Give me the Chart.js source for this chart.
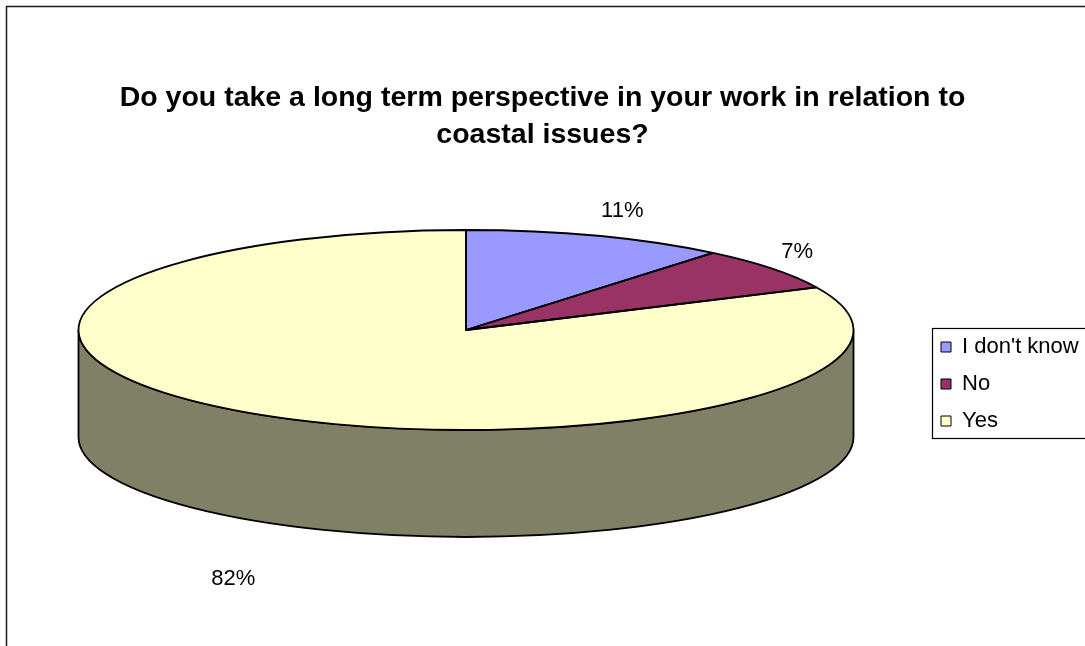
<!DOCTYPE html>
<html>
<head>
<meta charset="utf-8">
<script src="https://cdn.jsdelivr.net/npm/chart.js@4/dist/chart.umd.min.js"></script>
<style>
  html, body { margin: 0; padding: 0; background: #fff; overflow: hidden; }
  canvas { display: block; }
</style>
</head>
<body>
<canvas id="c" width="1085" height="646"></canvas>
<script>
// ---- data ----
const categories = ["I don't know", "No", "Yes"];
const values = [11, 7, 82];
const percentLabels = ["11%", "7%", "82%"];
const titleLines = ["Do you take a long term perspective in your work in relation to", "coastal issues?"];

// ---- style ----
const sliceColors = ['#9999FF', '#993366', '#FFFFCC'];
const FONT = "'Liberation Sans', Arial, sans-serif";
const CX = 466, CY = 330, RX = 387.5, RY = 100, DEPTH = 107;
const K = RY / RX;

function darken(hex, f) {
  const n = parseInt(hex.slice(1), 16);
  const r = Math.round(((n >> 16) & 255) * f), g = Math.round(((n >> 8) & 255) * f), b = Math.round((n & 255) * f);
  return `rgb(${r},${g},${b})`;
}
const sideColors = sliceColors.map(c => darken(c, 0.5));

const pie3d = {
  id: 'pie3d',
  afterLayout(chart) {
    chart.chartArea = { left: CX - RX, right: CX + RX, top: CY - RX, bottom: CY + RX, width: 2 * RX, height: 2 * RX };
    const lg = chart.legend;
    if (lg) {
      const w = lg.width, h = lg.height;
      lg.left = 926; lg.top = 321; lg.right = lg.left + w; lg.bottom = lg.top + h;
    }
  },
  beforeDraw(chart) {
    const ctx = chart.ctx;
    ctx.save();
    ctx.strokeStyle = '#1a1a1a';
    ctx.lineWidth = 1.5;
    ctx.strokeRect(6.5, 6.5, 1300, 900);
    // legend frame
    ctx.lineWidth = 1.2;
    ctx.strokeStyle = '#000';
    ctx.strokeRect(932.5, 328.5, 200, 110);
    ctx.restore();
  },
  beforeDatasetsDraw(chart) {
    const ctx = chart.ctx;
    const meta = chart.getDatasetMeta(0);
    ctx.save();
    ctx.lineWidth = 1.8;
    ctx.strokeStyle = '#000';
    ctx.lineJoin = 'round';
    meta.data.forEach((arc, i) => {
      const { x, y, startAngle, endAngle, outerRadius } = arc.getProps(['x', 'y', 'startAngle', 'endAngle', 'outerRadius'], true);
      for (let off = -2; off <= 2; off++) {
        const lo = off * 2 * Math.PI, hi = lo + Math.PI;
        const a = Math.max(startAngle, lo), b = Math.min(endAngle, hi);
        if (b - a <= 1e-6) continue;
        ctx.beginPath();
        ctx.ellipse(x, y, outerRadius, outerRadius * K, 0, a, b, false);
        ctx.lineTo(x + outerRadius * Math.cos(b), y + DEPTH + outerRadius * K * Math.sin(b));
        ctx.ellipse(x, y + DEPTH, outerRadius, outerRadius * K, 0, b, a, true);
        ctx.closePath();
        ctx.fillStyle = sideColors[i];
        ctx.fill();
        ctx.stroke();
      }
    });
    ctx.restore();
    ctx.save();
    ctx.translate(CX, CY);
    ctx.scale(1, K);
    ctx.translate(-CX, -CY);
  },
  afterDatasetsDraw(chart) {
    const ctx = chart.ctx;
    ctx.restore();
    const meta = chart.getDatasetMeta(0);
    ctx.save();
    ctx.lineWidth = 1.8;
    ctx.strokeStyle = '#000';
    ctx.lineJoin = 'round';
    meta.data.forEach((arc) => {
      const { x, y, startAngle, endAngle, outerRadius } = arc.getProps(['x', 'y', 'startAngle', 'endAngle', 'outerRadius'], true);
      ctx.beginPath();
      ctx.moveTo(x, y);
      ctx.ellipse(x, y, outerRadius, outerRadius * K, 0, startAngle, endAngle, false);
      ctx.closePath();
      ctx.stroke();
    });
    // percentage labels
    ctx.fillStyle = '#000';
    ctx.font = `22px ${FONT}`;
    ctx.textAlign = 'center';
    ctx.textBaseline = 'middle';
    meta.data.forEach((arc, i) => {
      const { x, y, startAngle, endAngle, outerRadius } = arc.getProps(['x', 'y', 'startAngle', 'endAngle', 'outerRadius'], true);
      const mid = (startAngle + endAngle) / 2;
      const c = Math.cos(mid), s = Math.sin(mid);
      const lx = x + outerRadius * c + 25 * Math.sign(c);
      let ly = y + outerRadius * K * 1.27 * s;
      if (s > 0) ly += DEPTH * 1.32;
      ctx.fillText(percentLabels[i], lx, ly);
    });
    ctx.restore();
  }
};

new Chart(document.getElementById('c'), {
  type: 'pie',
  data: {
    labels: categories,
    datasets: [{
      data: values,
      backgroundColor: sliceColors,
      borderWidth: 0,
      radius: RX,
      clip: false
    }]
  },
  options: {
    responsive: false,
    animation: false,
    events: [],
    plugins: {
      title: {
        display: true,
        text: titleLines,
        color: '#000',
        font: { family: FONT, size: 28.5, weight: 'bold', lineHeight: 1.3 },
        padding: { top: 80, bottom: 10 }
      },
      legend: {
        display: true,
        position: 'right',
        align: 'start',
        labels: {
          color: '#000',
          font: { family: FONT, size: 22 },
          boxWidth: 10,
          boxHeight: 10,
          padding: 15,
          generateLabels(chart) {
            const items = Chart.overrides.pie.plugins.legend.labels.generateLabels(chart);
            return items.map(it => Object.assign(it, { lineWidth: 1, strokeStyle: '#000' }));
          }
        }
      },
      tooltip: { enabled: false }
    }
  },
  plugins: [pie3d]
});
</script>
</body>
</html>
